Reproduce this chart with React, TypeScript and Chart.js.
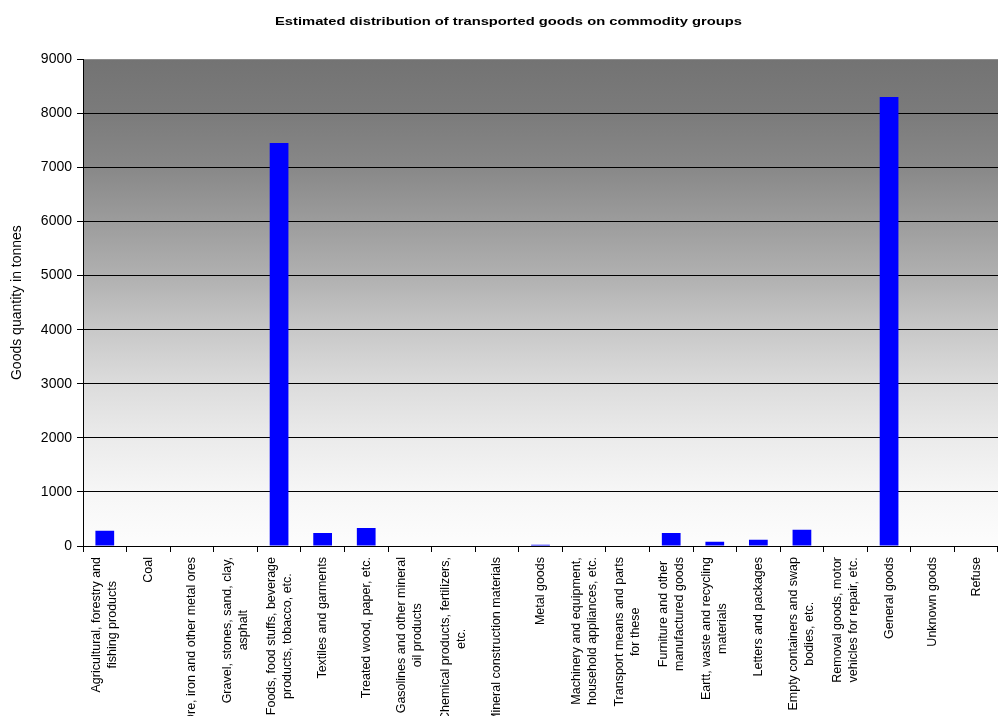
import React, { useEffect, useRef } from "react";
import { Chart, registerables } from "chart.js";

Chart.register(...registerables);

const chartTitle = "Estimated distribution of transported goods on commodity groups";
const yAxisTitle = "Goods quantity in tonnes";

const categories: string[][] = [
  ["Agricultural, forestry and", "fishing products"],
  ["Coal"],
  ["Ore, iron and other metal ores"],
  ["Gravel, stones, sand, clay,", "asphalt"],
  ["Foods, food stuffs, beverage", "products, tobacco, etc."],
  ["Textiles and garments"],
  ["Treated wood, paper, etc."],
  ["Gasolines and other mineral", "oil products"],
  ["Chemical products, fertilizers,", "etc."],
  ["Mineral construction materials"],
  ["Metal goods"],
  ["Machinery and equipment,", "household appliances, etc."],
  ["Transport means and parts", "for these"],
  ["Furniture and other", "manufactured goods"],
  ["Eartt, waste and recycling", "materials"],
  ["Letters and packages"],
  ["Empty containers and swap", "bodies, etc."],
  ["Removal goods, motor", "vehicles for repair, etc."],
  ["General goods"],
  ["Unknown goods"],
  ["Refuse"],
];

const quantities: number[] = [
  280, 0, 0, 0, 7450, 240, 335, 0, 0, 0, 25, 0, 0, 240, 80, 115, 300, 0, 8300, 0, 0,
];

const yMin = 0;
const yMax = 9000;
const yStep = 1000;

const FONT = "'Liberation Sans', Arial, sans-serif";

export default function App() {
  const canvasRef = useRef<HTMLCanvasElement | null>(null);

  useEffect(() => {
    const canvas = canvasRef.current;
    if (!canvas) return;

    const gradientBg = {
      id: "gradientBg",
      beforeDraw(chart: any) {
        const { ctx, chartArea } = chart;
        if (!chartArea) return;
        const g = ctx.createLinearGradient(0, chartArea.top, 0, chartArea.bottom);
        const stops: [number, string][] = [
          [0, "#737373"],
          [1 / 9, "#7b7b7b"],
          [2 / 9, "#888888"],
          [3 / 9, "#9c9c9c"],
          [4 / 9, "#b0b0b0"],
          [5 / 9, "#c8c8c8"],
          [6 / 9, "#dcdcdc"],
          [7 / 9, "#ebebeb"],
          [8 / 9, "#f6f6f6"],
          [1, "#fdfdfd"],
        ];
        stops.forEach(([o, c]) => g.addColorStop(o, c));
        ctx.save();
        ctx.fillStyle = g;
        ctx.fillRect(chartArea.left, chartArea.top, chartArea.right - chartArea.left, chartArea.bottom - chartArea.top);
        ctx.restore();
      },
    };

    const customText = {
      id: "customText",
      afterDraw(chart: any) {
        const { ctx, chartArea } = chart;
        const xs = chart.scales.x;
        ctx.save();
        // chart title (horizontally widened like the reference)
        ctx.font = `bold 11.5px ${FONT}`;
        ctx.fillStyle = "#000";
        ctx.textBaseline = "middle";
        ctx.textAlign = "center";
        const tw = ctx.measureText(chartTitle).width;
        const sx = 467 / tw;
        ctx.save();
        ctx.translate(508.5, 22);
        ctx.scale(sx, 1);
        ctx.fillText(chartTitle, 0, 0);
        ctx.restore();

        // category labels, rotated, lines centred within each block
        ctx.font = `12.5px ${FONT}`;
        const lh = 16;
        const top = chartArea.bottom + 11;
        categories.forEach((lines, i) => {
          const cx = xs.getPixelForValue(i);
          let w = 0;
          lines.forEach((l) => (w = Math.max(w, ctx.measureText(l).width)));
          ctx.save();
          ctx.translate(cx, top);
          ctx.rotate(-Math.PI / 2);
          lines.forEach((l, j) => {
            ctx.fillText(l, -w / 2, (j - (lines.length - 1) / 2) * lh);
          });
          ctx.restore();
        });
        ctx.restore();
      },
    };

    const chart = new Chart(canvas, {
      type: "bar",
      data: {
        labels: categories.map((c) => c.join(" ")),
        datasets: [
          {
            data: quantities,
            backgroundColor: "#0000ff",
            borderWidth: 0,
            barPercentage: 0.43,
            categoryPercentage: 1,
          },
        ],
      },
      options: {
        animation: false,
        responsive: false,
        layout: { padding: { left: 0, right: 0, top: 0, bottom: 0 } },
        plugins: {
          legend: { display: false },
          tooltip: { enabled: false },
          title: {
            display: true,
            text: chartTitle,
            color: "rgba(0,0,0,0)",
            font: { family: FONT, size: 11, weight: "bold" },
            padding: { top: 16, bottom: 30 },
          },
        },
        scales: {
          x: {
            grid: {
              display: true,
              offset: true,
              drawOnChartArea: false,
              drawTicks: true,
              tickLength: 6,
              tickColor: "#000",
              color: "#000",
            },
            border: { display: true, color: "#000", width: 1 },
            ticks: { display: false },
            afterFit: (s: any) => {
              s.height = 170;
            },
          },
          y: {
            min: yMin,
            max: yMax,
            grid: {
              color: (c: any) => (c.tick && c.tick.value === yMax ? "rgba(0,0,0,0)" : "#000"),
              tickColor: "#000",
              tickLength: 6,
              drawTicks: true,
            },
            border: { display: true, color: "#000", width: 1 },
            ticks: {
              stepSize: yStep,
              color: "#000",
              padding: 5,
              font: { family: FONT, size: 14 },
              callback: (v: any) => String(v),
            },
            title: {
              display: true,
              text: yAxisTitle,
              color: "#000",
              font: { family: FONT, size: 14 },
              padding: { top: 9, bottom: 0 },
            },
            afterFit: (s: any) => {
              s.width = 83;
            },
          },
        },
      },
      plugins: [gradientBg, customText],
    });

    return () => chart.destroy();
  }, []);

  return (
    <div style={{ position: "absolute", left: 0, top: 0, width: 998, height: 716, background: "#fff" }}>
      <canvas ref={canvasRef} width={998} height={716} style={{ display: "block" }} />
    </div>
  );
}
